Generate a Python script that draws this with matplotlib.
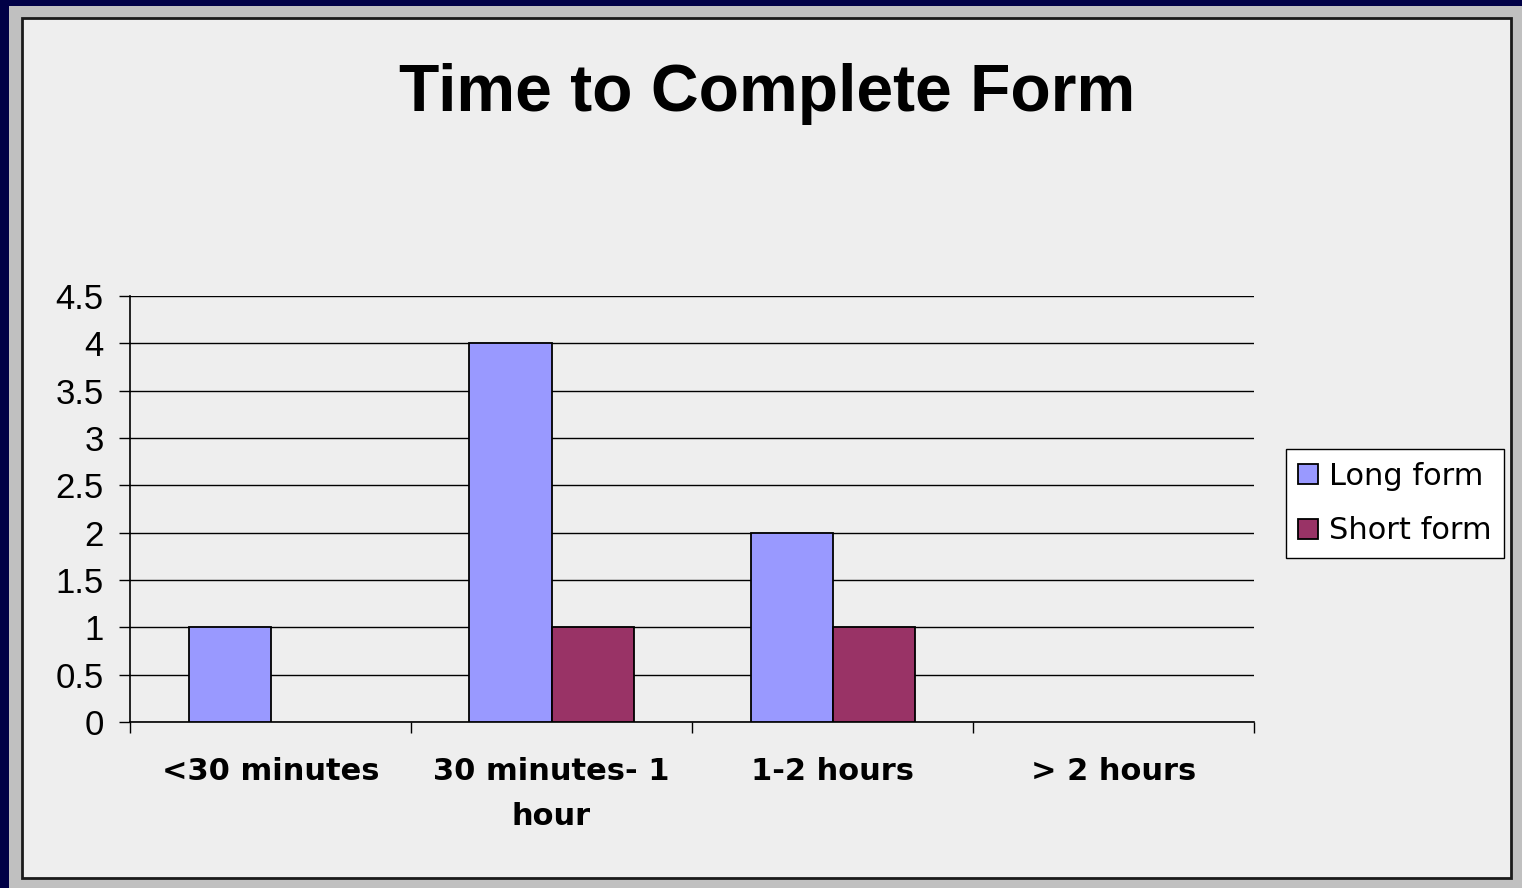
import numpy as np
import matplotlib.pyplot as plt
from matplotlib.patches import Rectangle, Patch

# chart values
categories = ['<30 minutes', '30 minutes- 1\nhour', '1-2 hours', '> 2 hours']
long_form = [1, 4, 2, 0]
short_form = [0, 1, 1, 0]
series_names = ['Long form', 'Short form']
series_colors = ['#9999ff', '#993366']
y_ticks = [0, 0.5, 1, 1.5, 2, 2.5, 3, 3.5, 4, 4.5]
y_tick_labels = ['0', '0.5', '1', '1.5', '2', '2.5', '3', '3.5', '4', '4.5']

W, H = 1522, 888
fig = plt.figure(figsize=(W / 100, H / 100), dpi=100)
fig.patch.set_facecolor('#c0c0c0')

# dark slide edges and the inner chart panel
fig.patches.append(Rectangle((0, 1 - 6 / H), 1, 6 / H, transform=fig.transFigure,
                             facecolor='#000046', edgecolor='none', zorder=-2))
fig.patches.append(Rectangle((0, 0), 9 / W, 1, transform=fig.transFigure,
                             facecolor='#000046', edgecolor='none', zorder=-2))
fig.patches.append(Rectangle((22 / W, 1 - 878 / H), (1511 - 22) / W, (878 - 18) / H,
                             transform=fig.transFigure, facecolor='#eeeeee',
                             edgecolor='#1a1a1a', linewidth=2, zorder=-1))

ax = fig.add_axes([130 / W, 1 - 722 / H, (1254 - 130) / W, (722 - 296) / H])
ax.patch.set_visible(False)
ax.set_zorder(2)

x = np.arange(len(categories)) + 0.5
bw = 82 / 281
# no outline for empty bars (excel doesn't draw them)
edges_long = ['black' if v else 'none' for v in long_form]
edges_short = ['black' if v else 'none' for v in short_form]
ax.bar(x - bw / 2, long_form, bw, color=series_colors[0], edgecolor=edges_long,
       linewidth=1.3, zorder=3)
ax.bar(x + bw / 2, short_form, bw, color=series_colors[1], edgecolor=edges_short,
       linewidth=1.3, zorder=3)

ax.set_xlim(0, len(categories))
ax.set_ylim(0, 4.5)
ax.set_yticks(y_ticks)
ax.set_yticklabels(y_tick_labels, fontfamily='Liberation Sans', fontsize=25)
ax.tick_params(axis='y', length=8, width=1, pad=11, direction='out')
ax.yaxis.grid(True, color='black', linewidth=1)
ax.set_axisbelow(True)

ax.set_xticks(np.arange(len(categories) + 1))
ax.set_xticklabels([])
ax.set_xticks(x, minor=True)
ax.set_xticklabels(categories, minor=True, fontweight='bold', fontsize=22,
                   linespacing=1.7)
ax.tick_params(axis='x', which='major', length=8, width=1, direction='out')
ax.tick_params(axis='x', which='minor', length=0, pad=25)

for s in ['top', 'right']:
    ax.spines[s].set_visible(False)
for s in ['left', 'bottom']:
    ax.spines[s].set_linewidth(1.2)

fig.text(767 / W, 1 - 94 / H, 'Time to Complete Form', ha='center', va='center',
         fontfamily='Liberation Sans', fontweight='bold', fontsize=47.5)

handles = [Patch(facecolor=c, edgecolor='black', linewidth=1.3) for c in series_colors]
leg = fig.legend(handles=handles, labels=series_names,
                 loc='center left', bbox_to_anchor=(1286 / W, 1 - 503.5 / H),
                 fontsize=22, frameon=True, fancybox=False, framealpha=1,
                 handlelength=0.65, handleheight=0.65, handletextpad=0.36,
                 borderpad=0.4, labelspacing=0.85, borderaxespad=0)
leg.get_frame().set_edgecolor('black')
leg.get_frame().set_linewidth(1)
leg.get_frame().set_facecolor('white')
leg.set_zorder(3)

fig.savefig('out.png', dpi=100, facecolor=fig.get_facecolor())
